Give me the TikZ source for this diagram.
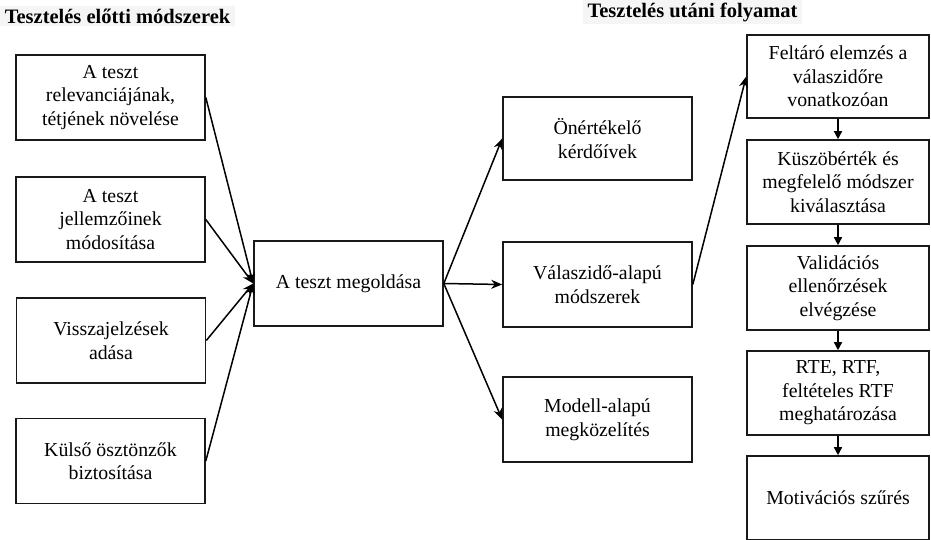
\documentclass[tikz,border=0pt]{standalone}
\usepackage{fontspec}
\setmainfont{Liberation Serif}
\usetikzlibrary{arrows.meta}
\begin{document}
\begin{tikzpicture}[x=1pt,y=-1pt,
  box/.style={draw=black!90,line width=1.6pt,align=center,inner sep=2pt,
    font=\fontsize{19.8}{23.5}\selectfont},
  lbox/.style={box,minimum width=189pt,minimum height=85pt},
  rbox/.style={box,minimum width=182pt,minimum height=84pt},
  ttl/.style={fill=black!4,inner xsep=5pt,inner ysep=3pt,font=\fontsize{20.5}{22}\selectfont\bfseries},
  arr/.style={-{Stealth[length=11pt,width=9pt]},line width=1.5pt},
  sarr/.style={-{Triangle[length=8pt,width=8pt]},line width=1.5pt}]
\useasboundingbox (0,0) rectangle (931,540);
\node[ttl] (t1) at (117.5,16) {Tesztelés előtti módszerek};
\node[ttl] (t2) at (692.5,12) {Tesztelés utáni folyamat};
% left column
\node[lbox] (l1) at (110.5,97.5) {A teszt\\relevanciájának,\\tétjének növelése};
\node[lbox] (l2) at (110.5,219.5) {A teszt\\jellemzőinek\\módosítása};
\node[lbox] (l3) at (111,340.5) {Visszajelzések\\adása};
\node[lbox] (l4) at (110.5,461) {Külső ösztönzők\\biztosítása};
% center
\node[lbox] (c) at (348.5,283.5) {A teszt megoldása};
% middle
\node[lbox,minimum height=83pt] (m1) at (597.5,138.5) {Önértékelő\\kérdőívek};
\node[lbox] (m2) at (597.5,284.5) {Válaszidő-alapú\\módszerek};
\node[lbox] (m3) at (597.5,419.5) {Modell-alapú\\megközelítés};
% right column
\node[rbox,minimum height=83pt] (r1) at (838,76.5) {Feltáró elemzés a\\válaszidőre\\vonatkozóan};
\node[rbox] (r2) at (838,182) {Küszöbérték és\\megfelelő módszer\\kiválasztása};
\node[rbox] (r3) at (838,288) {Validációs\\ellenőrzések\\elvégzése};
\node[rbox] (r4) at (838,393) {RTE, RTF,\\feltételes RTF\\meghatározása};
\node[rbox] (r5) at (838,498) {Motivációs szűrés};
% connectors
\foreach \n in {l1,l2,l3,l4} \draw[arr] (\n.east) -- (c.west);
\foreach \n in {m1,m2,m3} \draw[arr] (c.east) -- (\n.west);
\draw[arr] (m2.east) -- (r1.west);
\draw[sarr] (r1) -- (r2);
\draw[sarr] (r2) -- (r3);
\draw[sarr] (r3) -- (r4);
\draw[sarr] (r4) -- (r5);
\end{tikzpicture}
\end{document}
